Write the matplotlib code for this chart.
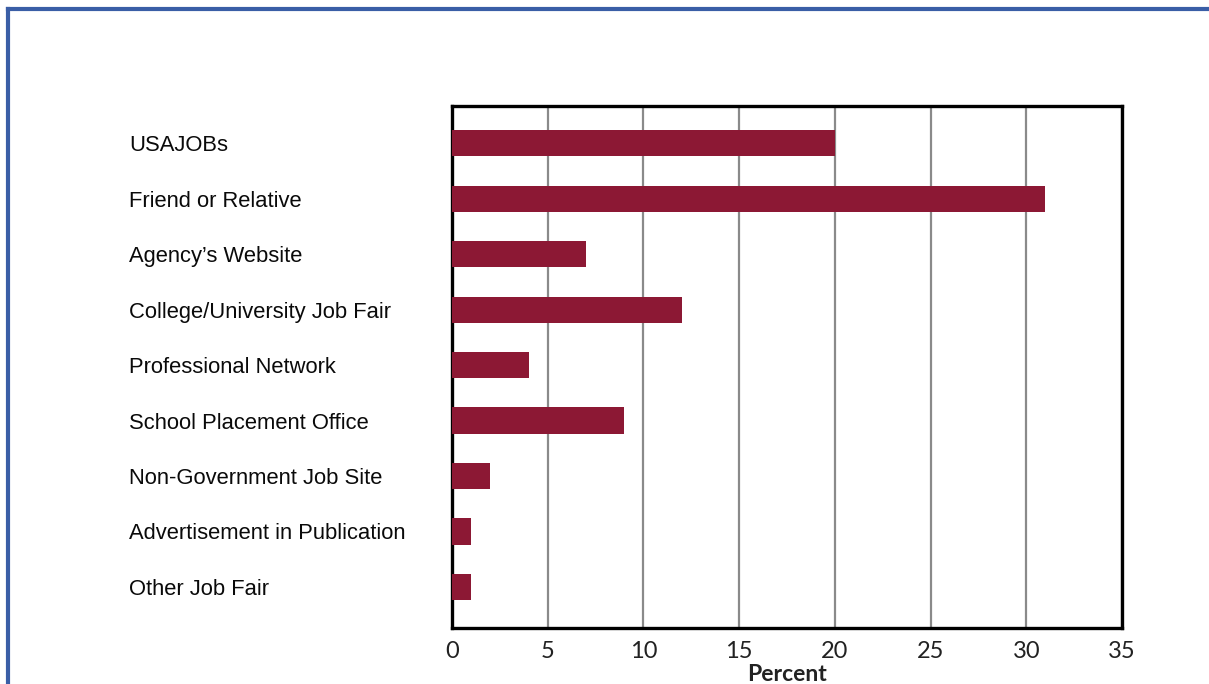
import matplotlib.pyplot as plt
from matplotlib.lines import Line2D

categories = [
    "USAJOBs",
    "Friend or Relative",
    "Agency\u2019s Website",
    "College/University Job Fair",
    "Professional Network",
    "School Placement Office",
    "Non-Government Job Site",
    "Advertisement in Publication",
    "Other Job Fair",
]
percent = [20, 31, 7, 12, 4, 9, 2, 1, 1]
x_ticks = [0, 5, 10, 15, 20, 25, 30, 35]

W, H = 1209, 684
fig = plt.figure(figsize=(W / 100, H / 100), dpi=100)
ax = fig.add_axes([452 / W, 1 - 628 / H, (1122 - 452) / W, (628 - 106) / H])

ypos = list(range(len(categories)))
ax.barh(ypos, percent, height=0.47, color="#8c1834", zorder=3)

ax.set_xlim(0, 35)
ax.set_ylim(8.74, -0.67)
ax.set_xticks(x_ticks)
ax.set_xticklabels([str(t) for t in x_ticks], fontfamily="Lato", fontsize=17, color="#222222")
ax.set_yticks(ypos)
ax.set_yticklabels(categories, fontfamily="Liberation Sans", fontsize=15.8, ha="left", color="#0a0a0a")
ax.tick_params(axis="y", length=0, pad=(452 - 129) * 0.72)
ax.tick_params(axis="x", length=0, pad=9)
ax.grid(axis="x", color="#8a8a8a", linewidth=1.6, zorder=1)
for s in ax.spines.values():
    s.set_linewidth(2.4)
    s.set_color("black")
ax.set_xlabel("Percent", fontfamily="Lato", fontsize=16.5, fontweight="bold", color="#222222", labelpad=2)

# blue frame around the picture (top and left edges)
fig.add_artist(Line2D([8 / W, 1], [1 - 9 / H] * 2, color="#3a5ea6", linewidth=3, transform=fig.transFigure))
fig.add_artist(Line2D([8 / W] * 2, [0, 1 - 9 / H], color="#3a5ea6", linewidth=3, transform=fig.transFigure))

fig.savefig("out.png", dpi=100)
